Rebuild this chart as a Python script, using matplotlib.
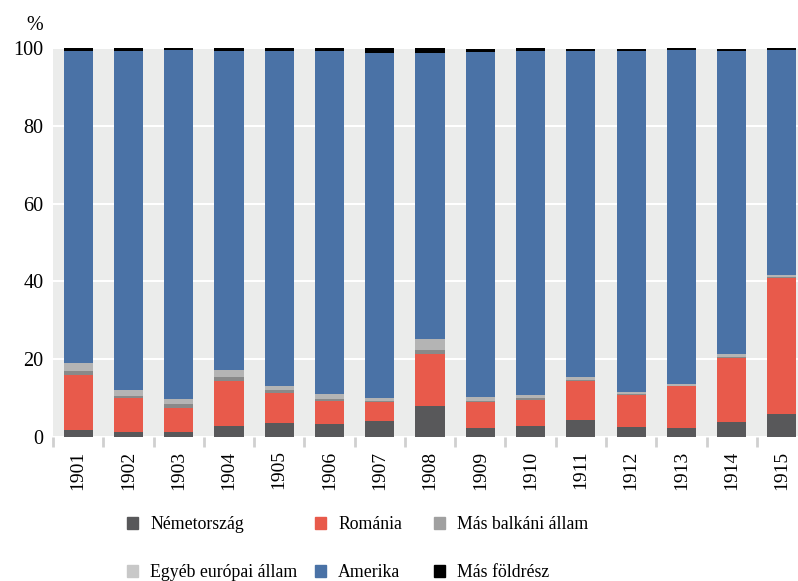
import numpy as np
import matplotlib.pyplot as plt
from matplotlib.patches import Patch

years = ['1901', '1902', '1903', '1904', '1905', '1906', '1907', '1908',
         '1909', '1910', '1911', '1912', '1913', '1914', '1915']
nemetorszag = [1.7, 1.2, 1.2, 2.7, 3.5, 3.2, 4.0, 7.9, 2.2, 2.7, 4.2, 2.4, 2.2, 3.7, 5.8]
romania = [14.1, 8.8, 6.2, 11.6, 7.7, 5.9, 5.0, 13.4, 6.8, 6.8, 10.0, 8.3, 10.8, 16.6, 35.1]
mas_balkani = [1.1, 0.4, 1.0, 1.0, 0.9, 0.6, 0.1, 1.0, 0.2, 0.4, 0.3, 0.2, 0.1, 0.2, 0.1]
egyeb_europai = [2.0, 1.6, 1.3, 1.8, 0.9, 1.2, 0.8, 2.8, 1.0, 0.8, 0.8, 0.6, 0.4, 0.8, 0.6]
amerika = [80.4, 87.3, 89.9, 82.2, 86.3, 88.4, 88.9, 73.6, 88.8, 88.6, 84.0, 87.8, 86.0, 78.0, 57.9]
mas_foldresz = [0.7, 0.7, 0.4, 0.7, 0.7, 0.7, 1.2, 1.3, 0.9, 0.7, 0.5, 0.5, 0.5, 0.5, 0.5]

series = [
    ('Németország', nemetorszag, '#58585a'),
    ('Románia', romania, '#e85a4b'),
    ('Más balkáni állam', mas_balkani, '#898989'),
    ('Egyéb európai állam', egyeb_europai, '#b4b4b4'),
    ('Amerika', amerika, '#4a72a6'),
    ('Más földrész', mas_foldresz, '#000000'),
]
legend_colors = ['#58585a', '#e85a4b', '#a0a0a0', '#c8c8c8', '#4a72a6', '#000000']

plt.rcParams['font.family'] = ['Liberation Serif', 'DejaVu Serif']

fig = plt.figure(figsize=(7.98, 5.81), dpi=100)
ax = fig.add_axes([53 / 798, 1 - 436.5 / 581, 745 / 798, 388.2 / 581])
ax.set_facecolor('#ebeceb')

x = np.arange(len(years))
bottom = np.zeros(len(years))
for name, vals, col in series:
    ax.bar(x, vals, 0.58, bottom=bottom, color=col, zorder=3)
    bottom += np.array(vals)

ax.set_ylim(0, 100)
ax.set_xlim(-0.487, 14.32)
ax.set_yticks([0, 20, 40, 60, 80, 100])
ax.yaxis.grid(True, color='white', linewidth=1.5, zorder=1)
ax.set_axisbelow(True)
ax.tick_params(axis='y', length=0, pad=7, labelsize=14.5)
ax.set_xticks(x)
ax.set_xticklabels(years, rotation=90, fontsize=14)
ax.tick_params(axis='x', length=0, pad=10)
ax.set_xticks(np.arange(-0.5, 14.5, 1), minor=True)
ax.tick_params(axis='x', which='minor', length=7, width=2, color='#d0d0d0', direction='out')
for s in ax.spines.values():
    s.set_visible(False)

fig.text(43 / 798, 1 - 25 / 581, '%', ha='right', va='center', fontsize=14.5)

# legend: three columns, placed one by one
handles = [Patch(color=c, label=n) for (n, _, _), c in zip(series, legend_colors)]
col_x = [127, 315, 434]
for j in range(3):
    leg = fig.legend(handles=[handles[j], handles[j + 3]], loc='upper left',
                     bbox_to_anchor=(col_x[j] / 798, 1 - 516 / 581),
                     frameon=False, fontsize=12.8, handlelength=0.6, handleheight=0.7,
                     handletextpad=0.7, labelspacing=1.75, borderpad=0, borderaxespad=0)

fig.savefig('out.png', dpi=100)
